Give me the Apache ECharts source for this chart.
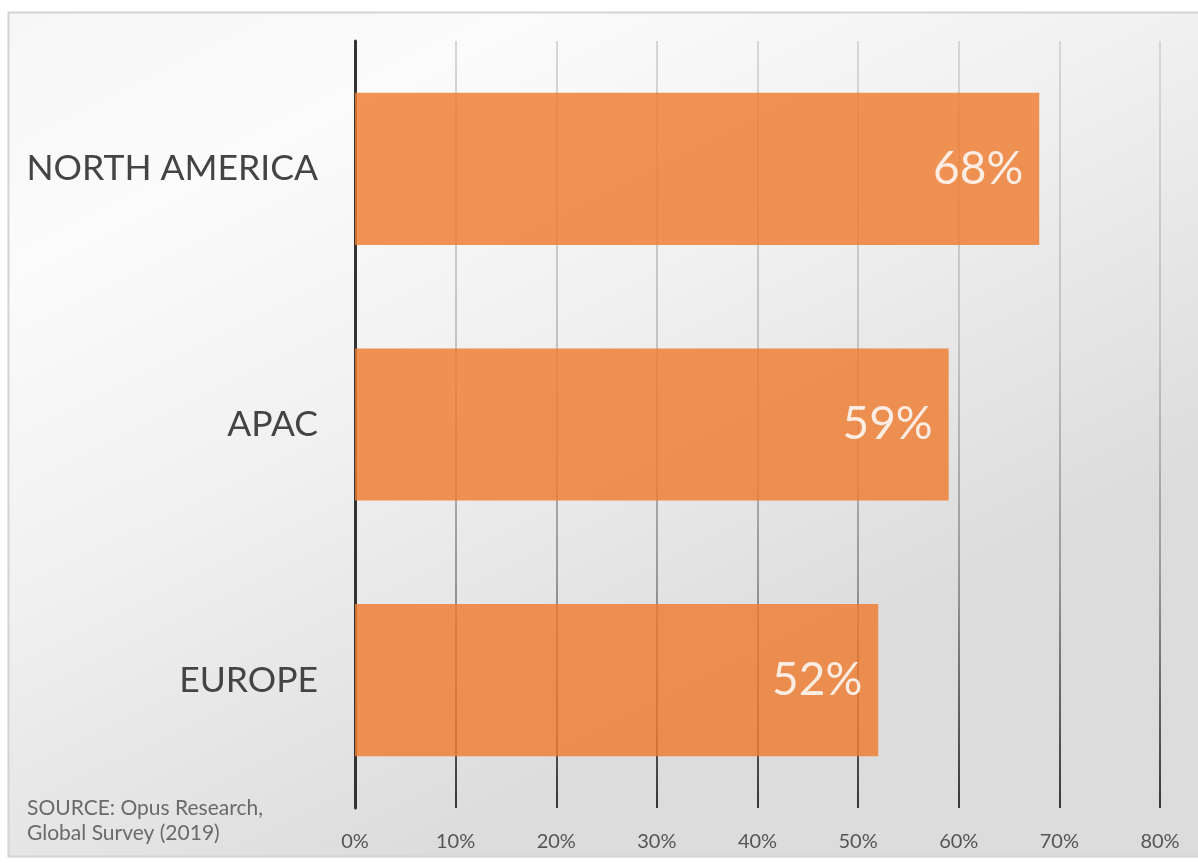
<!DOCTYPE html>
<html>
<head>
<meta charset="utf-8">
<script src="https://cdn.jsdelivr.net/npm/echarts@6/dist/echarts.min.js"></script>
<style>
html,body{margin:0;padding:0;background:#fff;}
#c{width:1198px;height:863px;}
</style>
</head>
<body>
<div id="c"></div>
<script>
const categories = ['EUROPE', 'APAC', 'NORTH AMERICA'];
const values = [52, 59, 68];
const tickMin = 0, tickMax = 80, tickStep = 10;
const sourceLines = ['SOURCE: Opus Research,', 'Global Survey (2019)'];

const chart = echarts.init(document.getElementById('c'), null, {renderer: 'canvas'});
const FONT = 'Lato, "Open Sans", sans-serif';

chart.setOption({
  animation: false,
  graphic: [
    {
      type: 'rect', z: -10, silent: true,
      shape: {x: 8.5, y: 12.5, width: 1200, height: 844},
      style: {
        fill: new echarts.graphic.LinearGradient(0, 0, 0.35, 1, [
          {offset: 0, color: '#f7f7f7'},
          {offset: 0.25, color: '#fbfbfb'},
          {offset: 0.55, color: '#f1f1f1'},
          {offset: 1, color: '#dcdcdc'}
        ]),
        stroke: '#d4d4d4', lineWidth: 2
      }
    },
    {
      type: 'text', left: 27, top: 796, silent: true,
      style: {
        text: sourceLines.join('\n'),
        font: '21px ' + FONT, fill: '#6a6a6a', lineHeight: 25
      }
    }
  ],
  grid: {left: 355, right: 38, top: 41, bottom: 55, containLabel: false},
  xAxis: {
    type: 'value', min: tickMin, max: tickMax, interval: tickStep,
    axisLine: {show: false}, axisTick: {show: false},
    axisLabel: {formatter: '{value}%', color: '#555', fontSize: 20, fontFamily: FONT, margin: 24},
    splitLine: {
      show: true,
      lineStyle: {
        width: 2,
        color: new echarts.graphic.LinearGradient(0, 0, 0, 1, [
          {offset: 0, color: '#d6d6d6'},
          {offset: 0.4, color: '#c2c2c2'},
          {offset: 0.7, color: '#989898'},
          {offset: 1, color: '#363636'}
        ])
      }
    }
  },
  yAxis: {
    type: 'category', data: categories,
    axisLine: {show: true, lineStyle: {color: '#333', width: 3}},
    axisTick: {show: false},
    axisLabel: {color: '#444', fontSize: 35.5, fontFamily: FONT, margin: 37}
  },
  series: [{
    type: 'bar', data: values, barCategoryGap: '40.5%',
    itemStyle: {color: '#ED7D31', opacity: 0.83},
    label: {
      show: true, position: 'insideRight', distance: 16,
      formatter: '{c}%', color: '#fff', fontSize: 46, fontFamily: FONT
    }
  }]
});
</script>
</body>
</html>
